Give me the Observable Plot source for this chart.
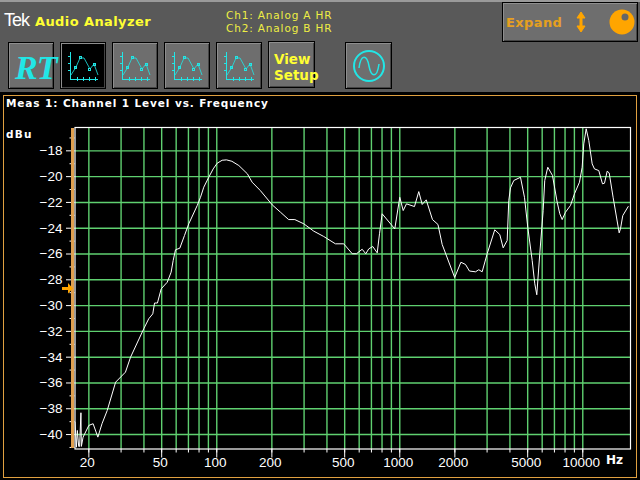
<!DOCTYPE html>
<html>
<head>
<meta charset="utf-8">
<script src="https://cdn.jsdelivr.net/npm/d3@7"></script>
<script src="https://cdn.jsdelivr.net/npm/@observablehq/plot@0.6"></script>
<style>
html,body{margin:0;padding:0;background:#000;}
#root{position:relative;width:640px;height:480px;overflow:hidden;background:#000;}
#root>*{position:absolute;}
#head{left:0;top:0;width:640px;height:92px;background:#595959;border-top:2px solid #9a9a9a;box-sizing:border-box;}
#panel{left:3px;top:95px;width:632px;height:381px;border:1px solid #e0a040;}
.t{white-space:nowrap;line-height:1;}
.btn{box-sizing:border-box;background:#6e6e6e;border:1px solid #000;box-shadow:inset 1px 1px 0 #8e8e8e,inset -1px -1px 0 #444;}
.btn svg{position:absolute;left:0;top:0;}
</style>
</head>
<body>
<div id="root">
  <div id="head"></div>
  <div id="panel"></div>
  <div class="t" style="left:4px;top:10px;color:#fff;font:18px 'Liberation Sans';letter-spacing:-1px;">Tek</div>
  <div class="t" style="left:35px;top:14px;color:#ffff33;font:bold 13px 'DejaVu Sans';letter-spacing:.4px;">Audio Analyzer</div>
  <div class="t" style="left:226px;top:9px;color:#eeee44;font:10.5px 'DejaVu Sans';letter-spacing:.85px;">Ch1: Analog A HR</div>
  <div class="t" style="left:226px;top:22px;color:#eeee44;font:10.5px 'DejaVu Sans';letter-spacing:.85px;">Ch2: Analog B HR</div>
  <div id="buttons"></div>
  <div class="t" style="left:6px;top:97px;color:#fff;font:bold 10.5px 'DejaVu Sans';letter-spacing:.9px;">Meas 1: Channel 1 Level vs. Frequency</div>
  <div class="t" style="left:6px;top:128px;color:#fff;font:bold 10.5px 'DejaVu Sans';letter-spacing:1.2px;">dBu</div>
  <div class="t" style="left:606px;top:453px;color:#fff;font:bold 12px 'DejaVu Sans';">Hz</div>
  <div id="chart" style="left:0;top:0;"></div>
  <div style="left:71px;top:128px;width:3px;height:320px;background:#e0a050;"></div>
  <svg style="left:60px;top:282px;" width="14" height="13"><path d="M2 5h6V1l5 5.500-5 5V8H2z" fill="#ffa500"/></svg>
</div>
<script>
const hz = [16.8,17.1,17.3,17.6,17.8,18.1,18.2,18.6,20,21.1,22.4,23.6,25.2,28,31.7,33.8,39.9,42.5,44.7,45.7,47.4,49.7,53.6,56.3,57.8,59.5,62.8,66.6,70.3,78.2,81.5,84.9,90.4,95.6,100.5,107,113,121,132,147,156,173,201,223,247,267,299,339,384,445,494,550,580,623,652,677,712,753,775,801,939,1000,1044,1088,1203,1270,1326,1395,1509,1617,1705,1995,2158,2286,2403,2593,2702,2820,3003,3304,3519,3673,3863,3941,4027,4198,4567,4802,5006,5291,5467,5607,5821,6074,6197,6439,6830,7246,7488,7717,8045,8570,9008,9594,9924,10127,10437,10785,11255,11586,12230,12816,13142,13593,13940,14660,15810,16070,16540,17710];
const dbu = [-39.04,-40.98,-39.68,-40.92,-40.92,-38.31,-40.92,-40.2,-39.29,-39.16,-40.2,-39.16,-38.13,-35.94,-35.16,-34,-31.8,-31.02,-30.64,-29.8,-29.8,-28.7,-28.19,-27.41,-26.5,-25.67,-25.55,-24.57,-23.66,-22.24,-21.6,-20.82,-20.05,-19.4,-18.96,-18.73,-18.7,-18.81,-19.14,-19.78,-20.43,-21.08,-22.19,-22.76,-23.33,-23.33,-23.66,-24.23,-24.64,-25.21,-25.21,-25.98,-25.98,-25.63,-25.98,-25.6,-25.42,-25.91,-24.43,-22.88,-24.05,-21.6,-22.63,-22.11,-22.32,-21.16,-22.16,-21.8,-23.33,-23.71,-25.26,-27.82,-26.64,-26.81,-27.32,-27.38,-27.22,-27.38,-25.98,-24.12,-24.49,-25.52,-24.95,-21.85,-20.87,-20.3,-20.05,-21.6,-23.92,-26.5,-28.31,-29.16,-25.98,-22.63,-20.3,-19.27,-19.91,-21.98,-22.88,-23.33,-22.76,-22.23,-21.33,-20.43,-19.27,-17.46,-16.29,-17.2,-19.01,-19.4,-19.53,-20.56,-20.51,-19.58,-19.71,-21.64,-24.36,-24.05,-23.02,-22.32];
const gridHz = [20,30,40,50,60,70,80,90,100,200,300,400,500,600,700,800,900,1000,2000,3000,4000,5000,6000,7000,8000,9000,10000];
const labelHz = [20,50,100,200,500,1000,2000,5000,10000];
const gridDb = [-18,-20,-22,-24,-26,-28,-30,-32,-34,-36,-38,-40];
const minorDb = [-17,-19,-21,-23,-25,-27,-29,-31,-33,-35,-37,-39,-41];
const xDomain = [16.8,18230];
const yDomain = [-41.12,-16.19];
const curve = hz.map((f,i)=>({f,v:dbu[i]}));
const GREEN = "#5fd070";

const chart = Plot.plot({
  width:640,height:480,
  marginLeft:74.5,marginRight:10,marginTop:127,marginBottom:31.5,
  style:{background:"transparent",color:"#fff",fontFamily:"'Liberation Sans'",fontSize:"13.5px"},
  x:{type:"log",domain:xDomain,axis:null},
  y:{domain:yDomain,axis:null},
  marks:[
    Plot.ruleX(gridHz,{stroke:GREEN,strokeWidth:1.4,strokeOpacity:1}),
    Plot.ruleY(gridDb,{stroke:GREEN,strokeWidth:1.4,strokeOpacity:1}),
    Plot.frame({stroke:"#fff",strokeWidth:1.2}),
    Plot.axisX({ticks:gridHz,tickSize:4,tickFormat:()=>"",label:null,stroke:"#fff"}),
    Plot.axisX({ticks:labelHz,tickSize:9,tickFormat:()=>"",label:null,stroke:"#fff"}),
    Plot.text(labelHz,{x:d=>d,frameAnchor:"bottom",dy:18,dx:-1.5,text:d=>String(d),fill:"#fff",fontSize:13.5}),
    Plot.axisY({ticks:gridDb,tickSize:8.5,tickPadding:4,tickFormat:d=>"\u2212"+Math.abs(d),label:null,stroke:"#fff",fill:"#fff",fontSize:13.5}),
    Plot.axisY({ticks:minorDb,tickSize:5,tickFormat:()=>"",label:null,stroke:"#fff"}),
    Plot.line(curve,{x:"f",y:"v",stroke:"#fff",strokeWidth:1,clip:true,curve:"linear"})
  ]
});
document.getElementById("chart").appendChild(chart);

const cyan="#22e6e6";
const icon=`<svg width="46" height="46" shape-rendering="crispEdges"><g fill="none" stroke="${cyan}" stroke-width="1"><path d="M9.500 9V36.500H37M7 13.500h3M7 20.500h3M7 27.500h3M16.500 34v4M22.500 34v4M28.500 34v4M34.500 34v4"/><path shape-rendering="auto" stroke-width=".8" d="M10 32L15 24L19 15L23 15L29 26L33 21L37 32"/><rect x="13.500" y="23.500" width="2" height="2"/><rect x="18.500" y="13.500" width="2" height="2"/><rect x="27.500" y="25.500" width="2" height="2"/><rect x="32.500" y="20.500" width="2" height="2"/></g></svg>`;
const btns=document.getElementById("buttons");
function addBtn(l,t,w,h,html,bg){
  const d=document.createElement("div");
  d.className="btn";
  d.style.cssText=`position:absolute;left:${l}px;top:${t}px;width:${w}px;height:${h}px;${bg?"background:"+bg+";":""}`;
  d.innerHTML=html;btns.appendChild(d);
}
addBtn(8,42,46,47,`<div class="t" style="position:absolute;left:6px;top:6px;color:${cyan};font:italic bold 34px 'Liberation Serif';letter-spacing:-1px;">RT</div>`);
addBtn(60,42,46,47,icon,"#000");
addBtn(112,42,46,47,icon);
addBtn(164,42,46,47,icon);
addBtn(216,42,46,47,icon);
addBtn(268,41,47,47,`<div class="t" style="position:absolute;left:5px;top:9px;color:#ffff33;font:bold 13.5px/16px 'DejaVu Sans';">View<br>Setup</div>`);
addBtn(345,42,47,47,`<svg width="47" height="47"><circle cx="23" cy="23" r="15" fill="none" stroke="${cyan}" stroke-width="2"/><path d="M13 25C15 10 21 12 23 23S31 36 33 21" fill="none" stroke="${cyan}" stroke-width="1.5"/></svg>`);
addBtn(502,2,136,40,`<div class="t" style="position:absolute;left:3px;top:12px;color:#e6a020;font:bold 13px 'DejaVu Sans';letter-spacing:.4px;">Expand</div><svg width="136" height="40"><path d="M78 9l4 6h-3v8h3l-4 6-4-6h3v-8h-3z" fill="#ffa500" stroke="#ffa500"/><circle cx="119" cy="19" r="12.500" fill="#ffa500"/><circle cx="122" cy="14" r="3.500" fill="#666"/></svg>`);
</script>
</body>
</html>
